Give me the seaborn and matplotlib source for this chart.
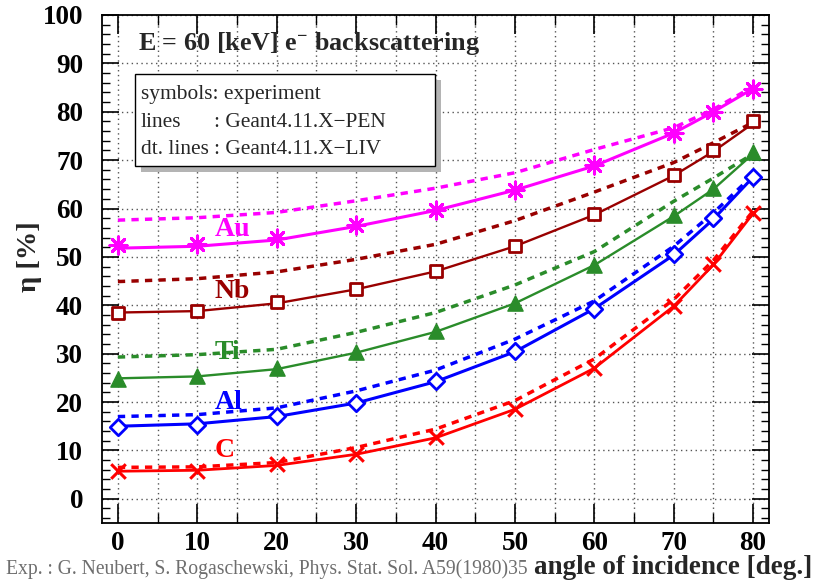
import matplotlib
matplotlib.use('Agg')
import matplotlib.pyplot as plt
import seaborn as sns
from matplotlib.patches import Rectangle
from matplotlib.ticker import MultipleLocator

# ---------------- data ----------------
angles = [0, 10, 20, 30, 40, 50, 60, 70, 75, 80]

au_exp = [52.4, 52.7, 53.9, 56.5, 59.6, 63.9, 68.9, 75.7, 79.9, 84.7]
au_pen = [51.8, 52.2, 53.5, 56.3, 59.6, 63.8, 68.8, 75.6, 80.0, 84.8]
au_liv = [57.6, 58.1, 59.2, 61.6, 64.2, 67.4, 72.2, 76.7, 80.5, 85.2]

nb_exp = [38.5, 38.8, 40.7, 43.4, 47.1, 52.2, 58.8, 66.9, 72.0, 78.0]
nb_pen = [38.5, 38.8, 40.4, 43.3, 47.0, 52.2, 58.7, 66.8, 71.8, 77.6]
nb_liv = [44.9, 45.5, 46.9, 49.5, 52.6, 57.5, 63.4, 69.5, 73.6, 77.8]

ti_exp = [24.7, 25.4, 27.0, 30.4, 34.7, 40.5, 48.4, 58.6, 64.2, 71.7]
ti_pen = [24.9, 25.3, 26.8, 30.2, 34.5, 40.4, 48.3, 58.4, 64.0, 71.3]
ti_liv = [29.3, 29.8, 30.9, 34.4, 38.5, 44.2, 51.1, 61.5, 66.3, 71.3]

al_exp = [14.8, 15.3, 17.2, 19.9, 24.4, 30.6, 39.3, 50.6, 58.1, 66.5]
al_pen = [15.0, 15.5, 17.0, 19.8, 24.2, 30.4, 39.3, 50.4, 57.8, 66.5]
al_liv = [17.0, 17.4, 18.8, 22.3, 26.6, 33.0, 40.9, 52.2, 59.1, 66.9]

c_exp = [5.8, 5.8, 7.1, 9.3, 12.7, 18.6, 27.1, 39.9, 48.5, 59.1]
c_pen = [5.7, 5.9, 6.9, 9.2, 12.6, 18.5, 27.0, 39.8, 48.4, 59.0]
c_liv = [6.5, 6.6, 7.5, 10.6, 14.4, 20.3, 28.9, 41.2, 49.3, 59.5]

elements = ["Au", "Nb", "Ti", "Al", "C"]
label_y = [55.7, 42.9, 30.2, 20.0, 10.0]
x_ticks = [0, 10, 20, 30, 40, 50, 60, 70, 80]
y_ticks = [0, 10, 20, 30, 40, 50, 60, 70, 80, 90, 100]

title = r"E = 60 [keV] e$^{\mathbf{-}}$ backscattering"
legend_lines = ["symbols: experiment", "lines", "dt. lines"]
legend_vals = ["", ": Geant4.11.X\u2212PEN", ": Geant4.11.X\u2212LIV"]
ref_text = "Exp. : G. Neubert, S. Rogaschewski, Phys. Stat. Sol. A59(1980)35"
xlabel = "angle of incidence [deg.]"
ylabel = "\u03b7 [%]"

# ---------------- style ----------------
series = {
    "Au": dict(exp=au_exp, pen=au_pen, liv=au_liv, color="#ff00ff", marker=(8, 2, 0),
               s=150, lw=2.2, filled=False),
    "Nb": dict(exp=nb_exp, pen=nb_pen, liv=nb_liv, color="#990000", marker="s",
               s=65, lw=1.7, filled=False),
    "Ti": dict(exp=ti_exp, pen=ti_pen, liv=ti_liv, color="#2a8c2a", marker="^",
               s=120, lw=1.7, filled=True),
    "Al": dict(exp=al_exp, pen=al_pen, liv=al_liv, color="#0000ff", marker="D",
               s=70, lw=2.2, filled=False),
    "C": dict(exp=c_exp, pen=c_pen, liv=c_liv, color="#ff0000", marker="x",
              s=110, lw=2.0, filled=False),
}

sns.set_theme(style="ticks")
plt.rcParams["font.family"] = ["Liberation Serif", "DejaVu Serif"]
plt.rcParams["mathtext.fontset"] = "custom"
plt.rcParams["mathtext.rm"] = "Liberation Serif"
plt.rcParams["mathtext.bf"] = "Liberation Serif:bold"
plt.rcParams["mathtext.it"] = "Liberation Serif:italic"

W, H = 815, 581
fig = plt.figure(figsize=(W / 100, H / 100), dpi=100)
fig.patch.set_facecolor("white")
L, R, T, B = 102, 769, 15, 523
ax = fig.add_axes([L / W, 1 - B / H, (R - L) / W, (B - T) / H])
ax.set_facecolor("white")


def fx(px):
    return px / W


def fy(py):
    return 1 - py / H


dash = (0, (2.1, 1.8))
for name, y_lab in zip(elements, label_y):
    d = series[name]
    c = d["color"]
    sns.lineplot(x=angles, y=d["pen"], color=c, linewidth=d["lw"], ax=ax, zorder=3)
    sns.lineplot(x=angles, y=d["liv"], color=c, linewidth=2.5, linestyle=dash, ax=ax, zorder=3)
    if d["marker"] == "x" or isinstance(d["marker"], tuple):
        sns.scatterplot(x=angles, y=d["exp"], marker=d["marker"], s=d["s"], color=c,
                        linewidth=2.2, ax=ax, zorder=4)
    elif d["filled"]:
        sns.scatterplot(x=angles, y=d["exp"], marker=d["marker"], s=d["s"], color=c,
                        edgecolor=c, linewidth=1, ax=ax, zorder=4)
    else:
        sns.scatterplot(x=angles, y=d["exp"], marker=d["marker"], s=d["s"], facecolor="white",
                        edgecolor=c, linewidth=2.0, ax=ax, zorder=4)
    ax.text(12.2, y_lab, name, color=c, fontsize=20, fontweight="bold", va="center",
            ha="left", zorder=5)

ax.set_xlim(-2, 82)
ax.set_ylim(-5, 100)
ax.set_xticks(x_ticks, labels=[str(v) for v in x_ticks], fontweight="bold")
ax.set_yticks(y_ticks, labels=[str(v) for v in y_ticks], fontweight="bold")
ax.xaxis.set_minor_locator(MultipleLocator(5))
ax.yaxis.set_minor_locator(MultipleLocator(2))
ax.tick_params(axis="both", which="both", direction="in", top=True, right=True,
               colors="black", labelsize=19.5)
ax.tick_params(axis="y", which="major", length=12, width=1.2, pad=13.5)
ax.tick_params(axis="y", which="minor", length=6, width=1.0)
ax.tick_params(axis="x", which="major", length=14, width=1.2, pad=6)
ax.tick_params(axis="x", which="minor", length=7, width=1.0)
for sp in ax.spines.values():
    sp.set_linewidth(1.3)
    sp.set_color("black")
    sp.set_visible(True)

gkw = dict(color="#555555", linestyle=(0, (1, 2.5)), linewidth=1.0)
ax.grid(False)
ax.xaxis.grid(True, which="both", **gkw)
ax.yaxis.grid(True, which="major", **gkw)
ax.set_axisbelow(True)
ax.set_xlabel("")
ax.set_ylabel("")

# title inside frame
fig.text(fx(138), fy(50), title, fontsize=18.8, fontweight="bold", ha="left", va="baseline")

# legend box with shadow
bx0, by0, bx1, by1 = 135, 74, 435, 166
shadow = Rectangle((fx(bx0 + 6), fy(by1 + 6)), fx(bx1 - bx0), (by1 - by0) / H,
                   transform=fig.transFigure, facecolor="#b4b4b4", edgecolor="none", zorder=6)
box = Rectangle((fx(bx0), fy(by1)), fx(bx1 - bx0), (by1 - by0) / H,
                transform=fig.transFigure, facecolor="white", edgecolor="black",
                linewidth=1.0, zorder=7)
fig.add_artist(shadow)
fig.add_artist(box)
for txt, val, yb in zip(legend_lines, legend_vals, [99, 127, 154]):
    fig.text(fx(141), fy(yb), txt, fontsize=15.4, ha="left", va="baseline", zorder=8)
    if val:
        fig.text(fx(214), fy(yb), val, fontsize=15.4, ha="left", va="baseline", zorder=8)

# axis labels
fig.text(fx(812), fy(574), xlabel, fontsize=19.5, fontweight="bold", ha="right", va="baseline")
fig.text(fx(30), fy(257), ylabel, fontsize=20.5, fontweight="bold", rotation=90,
         ha="center", va="center")
fig.text(fx(528), fy(574), ref_text, fontsize=14.1, color="#6e6e6e", ha="right", va="baseline")

fig.savefig("out.png", dpi=100, facecolor="white")
